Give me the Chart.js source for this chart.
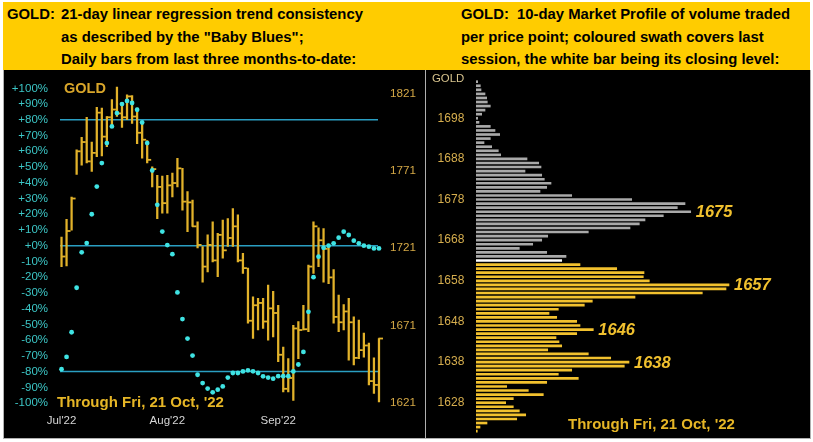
<!DOCTYPE html>
<html><head><meta charset="utf-8">
<script src="https://cdn.jsdelivr.net/npm/chart.js@4.4.1/dist/chart.umd.min.js"></script>
<style>
html,body{margin:0;padding:0;background:#fff;width:813px;height:442px;overflow:hidden;font-family:'Liberation Sans',Arial,sans-serif;}
.abs{position:absolute;}
#hdr{left:3px;top:2px;width:807px;height:68px;background:#ffcc00;}
#blk{left:3px;top:70px;width:808px;height:368px;background:#000;}
.ht{position:absolute;font-weight:bold;font-size:14.85px;line-height:22.5px;color:#000;white-space:nowrap;top:3px;}
.ln{position:absolute;background:#b0b0b0;}
.tx{position:absolute;white-space:nowrap;line-height:1;}
canvas{position:absolute;}
</style>
</head><body>
<div id="hdr" class="abs"></div>
<div class="ht" style="left:7px;">GOLD:</div>
<div class="ht" style="left:61px;">21-day linear regression trend consistency<br>as described by the "Baby Blues";<br>Daily bars from last three months-to-date:</div>
<div class="ht" style="left:461px;">GOLD:&nbsp; 10-day Market Profile of volume traded<br>per price point; coloured swath covers last<br>session, the white bar being its closing level:</div>
<div id="blk" class="abs"></div>
<canvas id="cL" width="422" height="368" style="left:3px;top:70px;width:422px;height:368px;"></canvas>
<canvas id="cR" width="383" height="368" style="left:427px;top:70px;width:383px;height:368px;"></canvas>
<div class="ln" style="left:3px;top:70px;width:1px;height:369px;"></div>
<div class="ln" style="left:3px;top:438px;width:808px;height:1px;"></div>
<div class="ln" style="left:810px;top:70px;width:1px;height:369px;"></div>
<div class="ln" style="left:425px;top:70px;width:1px;height:369px;"></div>
<div class="tx" style="left:64px;top:81px;font-weight:bold;font-size:14.5px;color:#d9a62a;">GOLD</div>
<div class="tx" style="left:57px;top:394px;font-weight:bold;font-size:15px;color:#e6b626;">Through Fri, 21 Oct, '22</div>
<div class="tx" style="left:432px;top:72.7px;font-size:11.4px;color:#d8c48e;">GOLD</div>
<div class="tx" style="left:568px;top:416.3px;font-weight:bold;font-size:15px;color:#e6b626;">Through Fri, 21 Oct, '22</div>
<script>
// ---- Left panel: daily GOLD bars (price) and "Baby Blues" (percent) ----
const highs  = [1728,1739.5,1754,1784.5,1792.5,1805.5,1789.5,1812,1811.5,1806,1817,1825,1815,1820,1819.5,1811.5,1801.5,1790.5,1773.5,1768,1767.5,1768,1769.5,1779,1772.5,1757.5,1752,1738,1722,1729.5,1738,1730.5,1739,1740,1746.5,1742.5,1717.5,1708,1689.5,1688.5,1688.5,1697,1693,1684,1657,1649.5,1671,1673.5,1684,1710,1738,1734,1733.5,1722,1707,1690.5,1684.5,1688.5,1676.5,1674.5,1666,1659.5,1650,1662.5];
const lows   = [1709,1709.5,1732.5,1768.5,1774.5,1776,1770.5,1780,1780.5,1786.5,1800.5,1806,1799,1804,1801.5,1788.5,1779,1776,1760.5,1740,1743.5,1743.5,1754,1760.5,1745.5,1731.5,1735,1721,1699,1705.5,1712,1702.5,1714.5,1722,1722,1712,1704.5,1672.5,1662.5,1668,1669,1661.5,1663.5,1647.5,1628,1628,1622.5,1649.5,1668,1667,1704.5,1709,1699,1698,1672.5,1667,1668,1648.5,1645.5,1649.5,1650.5,1632.5,1627,1621.5];
const closes = [1715.5,1732,1753,1783.5,1789.5,1777,1782.5,1808.5,1793,1805.5,1810.5,1808,1805.5,1819,1806,1795.5,1791,1778,1772,1760.5,1750,1761.5,1763,1772.5,1751,1750.5,1735,1723,1709,1723,1713,1729.5,1719.5,1727.5,1735,1713,1708,1674,1684,1685.5,1673.5,1682,1679,1652,1630,1637,1669,1668,1668.5,1709,1735,1726,1720.5,1702,1676.5,1673,1680,1673,1650,1655,1658,1635,1632.5,1662.5];
const blues  = [-78.5,-70.7,-55,-26.7,-4.2,1.7,20,37.6,52.5,65.2,75.8,84.3,90,92,90.7,86.4,78.3,65.2,47.8,26,9,0.4,-5.4,-29.7,-46.6,-59,-69.8,-82,-87.3,-90.8,-93.2,-91.5,-89.4,-83.8,-80.9,-80.9,-79.9,-79.2,-79.8,-80.9,-83,-83.8,-84.5,-82.9,-82.9,-82.9,-79.9,-75.5,-67.5,-42,-20,-7,-1.3,0,1.5,5.1,8.9,6.8,3.2,1.5,0,-0.6,-1.7,-1.7];
const monthTickIndex  = [0, 21, 43];
const monthTickLabels = ["Jul'22", "Aug'22", "Sep'22"];
const pctTicks   = [100,90,80,70,60,50,40,30,20,10,0,-10,-20,-30,-40,-50,-60,-70,-80,-90,-100];
const priceTicks = [1621,1671,1721,1771,1821];
const refLevels  = [80, 0, -80];

// ---- Right panel: 10-day market profile ----
const profilePrices = [1621,1622,1623,1624,1625,1626,1627,1628,1629,1630,1631,1632,1633,1634,1635,1636,1637,1638,1639,1640,1641,1642,1643,1644,1645,1646,1647,1648,1649,1650,1651,1652,1653,1654,1655,1656,1657,1658,1659,1660,1661,1662,1663,1664,1665,1666,1667,1668,1669,1670,1671,1672,1673,1674,1675,1676,1677,1678,1679,1680,1681,1682,1683,1684,1685,1686,1687,1688,1689,1690,1691,1692,1693,1694,1695,1696,1697,1698,1699,1700,1701,1702,1703,1704,1705,1706,1707];
const profileVolume = [1.3,4,11,40.7,49.7,43.3,37.3,29.7,37.3,67.3,52.3,30.7,70.7,102.3,82.3,95.7,148.3,153,134.7,112.3,71.7,85.7,83,80,100.7,117.3,104,100.7,80.7,73,82.3,108.3,116.3,159,226.3,250,253,173.3,167.3,168,140.7,104,85.7,90,70.7,43.3,56.7,65.7,71.7,112.3,154,163.3,169,187.3,214.7,201.3,209,155.7,95.7,64,70.7,75,68.3,65.7,49,65,62.7,51,24.7,22.3,15.7,8,14.3,23.7,19,14.3,3,1.7,5.7,9,14.3,11.3,10.7,9,5,4.3,1.7];
const sessionClose = 1663;
const sessionLow   = 1621;
const profileTicks = [1628,1638,1648,1658,1668,1678,1688,1698];
const peakLabels   = [1675, 1657, 1646, 1638];

const FONT = "'Liberation Sans', Arial, sans-serif";
Chart.defaults.font.family = FONT;

const dayLabels = blues.map((_, i) => {
  const k = monthTickIndex.indexOf(i);
  return k >= 0 ? monthTickLabels[k] : '';
});

function noPad(s){ s.paddingTop = 0; s.paddingBottom = 0; s.paddingLeft = 0; s.paddingRight = 0; }

const refLinesPlugin = {
  id: 'refLines',
  beforeDatasetsDraw(chart) {
    const {ctx, chartArea: a, scales} = chart;
    const y = scales.yPct;
    ctx.save();
    ctx.strokeStyle = '#2a9ec2';
    ctx.lineWidth = 1.5;
    refLevels.forEach(v => {
      const py = y.getPixelForValue(v);
      ctx.beginPath(); ctx.moveTo(a.left + 1, py); ctx.lineTo(a.right - 3.5, py); ctx.stroke();
    });
    ctx.restore();
  }
};
const closeTickPlugin = {
  id: 'closeTicks',
  afterDatasetDraw(chart, args) {
    if (args.index !== 1) return;
    const {ctx, scales} = chart;
    ctx.save();
    ctx.strokeStyle = '#e2b22a';
    ctx.lineWidth = 1.8;
    closes.forEach((c, i) => {
      const x = scales.x.getPixelForValue(i);
      const y = scales.yPrice.getPixelForValue(c);
      ctx.beginPath(); ctx.moveTo(x - 0.5, y); ctx.lineTo(x + 4, y); ctx.stroke();
    });
    ctx.restore();
  }
};

new Chart(document.getElementById('cL'), {
  type: 'bar',
  data: {
    labels: dayLabels,
    datasets: [
      { type: 'line', label: 'Baby Blues', data: blues, yAxisID: 'yPct', showLine: false,
        pointRadius: 2.4, pointBackgroundColor: '#3fe3e3', pointBorderWidth: 0, order: 0 },
      { type: 'bar', label: 'GOLD', data: lows.map((l, i) => [l, highs[i]]), yAxisID: 'yPrice',
        backgroundColor: '#e2b22a', barThickness: 1.6, order: 1 }
    ]
  },
  options: {
    responsive: false, animation: false, maintainAspectRatio: false,
    layout: { padding: { top: 10, left: 0, right: 0, bottom: 0 } },
    plugins: { legend: { display: false }, tooltip: { enabled: false } },
    scales: {
      x: { type: 'category', offset: true, grid: { display: false, drawTicks: false }, border: { display: false },
           ticks: { autoSkip: false, maxRotation: 0, minRotation: 0, color: '#d6d6d6', font: { size: 11.5 }, padding: 4 },
           afterFit(s) { s.height = 28; noPad(s); } },
      yPct: { type: 'linear', position: 'left', min: -104.4, max: 105.3,
           afterBuildTicks(s) { s.ticks = pctTicks.map(v => ({ value: v })); },
           grid: { display: false, drawTicks: false }, border: { display: false },
           ticks: { autoSkip: false, color: '#3cc6c6', font: { size: 11.5 }, padding: 11,
                    callback: v => (v >= 0 ? '+' : '') + v + '%' },
           afterFit(s) { s.width = 56; noPad(s); } },
      yPrice: { type: 'linear', position: 'right', min: 1616.3, max: 1829.6,
           afterBuildTicks(s) { s.ticks = priceTicks.map(v => ({ value: v })); },
           grid: { display: false, drawTicks: false }, border: { display: false },
           ticks: { autoSkip: false, color: '#d4a846', font: { size: 11.7 }, padding: 8.5, callback: v => String(v) },
           afterFit(s) { s.width = 43.5; noPad(s); } }
    }
  },
  plugins: [refLinesPlugin, closeTickPlugin]
});

const peakLabelPlugin = {
  id: 'peakLabels',
  afterDatasetsDraw(chart) {
    const {ctx, scales} = chart;
    ctx.save();
    ctx.fillStyle = '#f0c02e';
    ctx.font = 'italic bold 16.5px ' + FONT;
    ctx.textBaseline = 'middle';
    ctx.textAlign = 'left';
    peakLabels.forEach(p => {
      const vol = profileVolume[profilePrices.indexOf(p)];
      const x = scales.x.getPixelForValue(vol) + 5;
      const y = scales.y.getPixelForValue(p) + 1;
      ctx.fillText(String(p), x, y);
    });
    ctx.restore();
  }
};

new Chart(document.getElementById('cR'), {
  type: 'bar',
  data: {
    datasets: [{
      label: 'Volume', data: profilePrices.map((p, i) => ({ x: profileVolume[i], y: p })),
      backgroundColor: profilePrices.map(p => p > sessionClose ? '#a9a9a9' : (p === sessionClose ? '#ffffff' : '#f2c12e')),
      barThickness: 2
    }]
  },
  options: {
    indexAxis: 'y', responsive: false, animation: false, maintainAspectRatio: false,
    layout: { padding: { top: 6, left: 0, right: 4, bottom: 4 } },
    plugins: { legend: { display: false }, tooltip: { enabled: false } },
    scales: {
      x: { type: 'linear', display: false, min: 0, max: 330, offset: false },
      y: { type: 'linear', position: 'left', min: 1620.3, max: 1708.4, offset: false,
           afterBuildTicks(s) { s.ticks = profileTicks.map(v => ({ value: v })); },
           grid: { display: false, drawTicks: false }, border: { display: false },
           ticks: { autoSkip: false, color: '#d6ae4e', font: { size: 12 }, padding: 11.7, callback: v => String(v) },
           afterFit(s) { s.width = 49; noPad(s); } }
    }
  },
  plugins: [peakLabelPlugin]
});
</script>
</body></html>
